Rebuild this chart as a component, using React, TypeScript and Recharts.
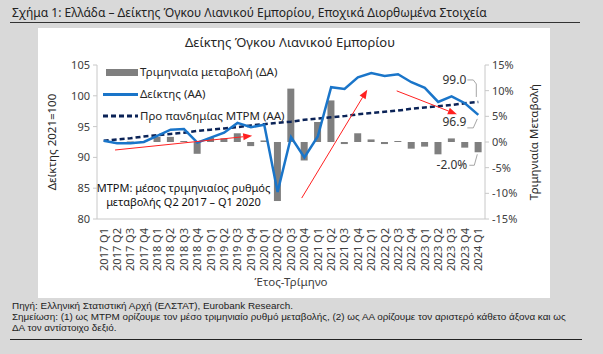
import React from 'react'
import {
  ComposedChart,
  Bar,
  Line,
  XAxis,
  YAxis,
  ReferenceLine,
  ReferenceDot,
} from 'recharts'

const quarters = [
  '2017 Q1', '2017 Q2', '2017 Q3', '2017 Q4',
  '2018 Q1', '2018 Q2', '2018 Q3', '2018 Q4',
  '2019 Q1', '2019 Q2', '2019 Q3', '2019 Q4',
  '2020 Q1', '2020 Q2', '2020 Q3', '2020 Q4',
  '2021 Q1', '2021 Q2', '2021 Q3', '2021 Q4',
  '2022 Q1', '2022 Q2', '2022 Q3', '2022 Q4',
  '2023 Q1', '2023 Q2', '2023 Q3', '2023 Q4',
  '2024 Q1',
]

// Δείκτης (ΑΑ)
const indexValues = [
  92.7, 92.3, 92.3, 92.5,
  93.5, 94.5, 94.6, 92.4,
  93.2, 94.0, 95.6, 94.9,
  95.3, 84.4, 93.3, 90.0,
  93.4, 101.4, 101.1, 103.0,
  103.7, 103.2, 103.5, 102.2,
  101.3, 99.0, 99.9, 98.8,
  96.9,
]

// Προ πανδημίας ΜΤΡΜ (ΑΑ)
const trendValues = [
  92.7, 92.9, 93.1, 93.4,
  93.6, 93.8, 94.0, 94.3,
  94.5, 94.7, 94.9, 95.2,
  95.4, 95.6, 95.8, 96.1,
  96.3, 96.5, 96.7, 97.0,
  97.2, 97.4, 97.6, 97.9,
  98.1, 98.3, 98.5, 98.8,
  99.0,
]

// Τριμηνιαία μεταβολή (ΔΑ), %
const changeValues = [
  0, -0.3, 0.1, 0.2,
  1.0, 1.0, 0.2, -2.3,
  0.8, 0.7, 1.7, -0.8,
  0.3, -11.5, 10.4, -3.6,
  3.9, 8.1, -0.4, 1.7,
  0.5, -0.4, 0.2, -1.3,
  -0.9, -2.4, 0.7, -1.1,
  -2.0,
]

const leftTicks = [80, 85, 90, 95, 100, 105]
const rightTicks = [-15, -10, -5, 0, 5, 10, 15]

const data = quarters.map((q, i) => ({
  q,
  i,
  index: indexValues[i],
  trend: trendValues[i],
  change: changeValues[i],
}))

const FONT = '"Noto Sans", "Open Sans", sans-serif'
const GREY = '#7f7f7f'
const BLUE = '#1a75c9'
const NAVY = '#0b2357'
const RED = '#ff2020'
const AXIS = '#c8c8c8'

function Arrow(props: any) {
  const { x1, y1, x2, y2 } = props
  if ([x1, y1, x2, y2].some((v) => typeof v !== 'number')) return null
  const a = Math.atan2(y2 - y1, x2 - x1)
  const len = 9
  const w = 3.5
  const bx = x2 - len * Math.cos(a)
  const by = y2 - len * Math.sin(a)
  const px = -Math.sin(a) * w
  const py = Math.cos(a) * w
  return (
    <g>
      <line x1={x1} y1={y1} x2={bx} y2={by} stroke={RED} strokeWidth={1} />
      <polygon points={`${x2},${y2} ${bx + px},${by + py} ${bx - px},${by - py}`} fill={RED} />
    </g>
  )
}

function callout(text: string, pts: number[][], tx: number, ty: number) {
  return (props: any) => {
    const { cx, cy } = props
    if (typeof cx !== 'number' || typeof cy !== 'number') return null
    return (
      <g>
        <polyline
          points={pts.map(([dx, dy]) => `${cx + dx},${cy + dy}`).join(' ')}
          fill="none"
          stroke="#a6a6a6"
          strokeWidth={1}
        />
        <text x={cx + tx} y={cy + ty} textAnchor="end" fontSize={12} fill="#333" fontFamily={FONT}>
          {text}
        </text>
      </g>
    )
  }
}

function XTick(props: any) {
  const { x, y, payload } = props
  return (
    <g transform={`translate(${x},${y})`}>
      <text
        x={0}
        y={0}
        dy="0.35em"
        transform="rotate(-90)"
        textAnchor="end"
        fontSize={11}
        fill="#404040"
        fontFamily={FONT}
      >
        {payload.value}
      </text>
    </g>
  )
}

function LegendBox() {
  const row: React.CSSProperties = { display: 'flex', alignItems: 'center', height: 22 }
  const txt: React.CSSProperties = { fontSize: 11.5, color: '#262626', marginLeft: 2 }
  return (
    <div style={{ position: 'absolute', left: 65, top: 33, fontFamily: FONT, lineHeight: 1 }}>
      <div style={row}>
        <div style={{ width: 32, height: 7, background: GREY, marginLeft: 3 }} />
        <span style={txt}>Τριμηνιαία μεταβολή (ΔΑ)</span>
      </div>
      <div style={row}>
        <div style={{ width: 35, height: 3, background: BLUE }} />
        <span style={txt}>Δείκτης (ΑΑ)</span>
      </div>
      <div style={row}>
        <svg width={35} height={4}>
          <line x1={0} y1={2} x2={35} y2={2} stroke={NAVY} strokeWidth={3} strokeDasharray="5 3" />
        </svg>
        <span style={txt}>Προ πανδημίας ΜΤΡΜ (ΑΑ)</span>
      </div>
    </div>
  )
}

export default function App() {
  return (
    <div
      style={{
        position: 'absolute',
        left: 0,
        top: 0,
        width: 603,
        height: 354,
        background: '#d9d9d9',
        fontFamily: FONT,
        overflow: 'hidden',
      }}
    >
      <div style={{ position: 'absolute', left: 12, top: 4, fontSize: 12, color: '#222' }}>
        Σχήμα 1: Ελλάδα – Δείκτης Όγκου Λιανικού Εμπορίου, Εποχικά Διορθωμένα Στοιχεία
      </div>
      <div style={{ position: 'absolute', left: 10, top: 22, width: 570, height: 1, background: '#333' }} />

      <div style={{ position: 'absolute', left: 38, top: 28, width: 512, height: 270, background: '#fff' }}>
        <div
          style={{
            position: 'absolute',
            left: 0,
            top: 5,
            width: 504,
            textAlign: 'center',
            fontSize: 13,
            color: '#262626',
          }}
        >
          Δείκτης Όγκου Λιανικού Εμπορίου
        </div>

        <ComposedChart
          width={512}
          height={270}
          data={data}
          margin={{ top: 37, right: 0, bottom: 0, left: 0 }}
          style={{ fontFamily: FONT }}
        >
          <XAxis
            dataKey="q"
            interval={0}
            tick={<XTick />}
            tickLine={false}
            tickMargin={3}
            axisLine={{ stroke: AXIS }}
            height={79}
            label={{
              value: 'Έτος-Τρίμηνο',
              position: 'insideBottom',
              offset: 12,
              fontSize: 11.5,
              fill: '#404040',
            }}
          />
          <XAxis xAxisId="num" dataKey="i" type="number" domain={[-0.5, 28.5]} hide />
          <YAxis
            yAxisId="left"
            domain={[80, 105]}
            ticks={leftTicks}
            width={59}
            tick={{ fontSize: 11, fill: '#404040' }}
            tickSize={4}
            tickMargin={3}
            axisLine={{ stroke: AXIS }}
            tickLine={{ stroke: AXIS }}
            label={{
              value: 'Δείκτης 2021=100',
              angle: -90,
              position: 'insideLeft',
              offset: 14,
              fontSize: 11.5,
              fill: '#262626',
              style: { textAnchor: 'middle' },
            }}
          />
          <YAxis
            yAxisId="right"
            orientation="right"
            domain={[-15, 15]}
            ticks={rightTicks}
            interval={0}
            width={65}
            tickFormatter={(v: number) => `${v}%`}
            tick={{ fontSize: 11, fill: '#404040' }}
            tickSize={4}
            tickMargin={3}
            axisLine={{ stroke: AXIS }}
            tickLine={{ stroke: AXIS }}
            label={{
              value: 'Τριμηνιαία Μεταβολή',
              angle: -90,
              position: 'insideRight',
              offset: 16,
              fontSize: 11.5,
              fill: '#262626',
              style: { textAnchor: 'middle' },
            }}
          />
          <Bar dataKey="change" yAxisId="right" fill={GREY} barSize={7} isAnimationActive={false} />
          <Line
            dataKey="trend"
            yAxisId="left"
            stroke={NAVY}
            strokeWidth={2.5}
            strokeDasharray="5 3"
            dot={false}
            isAnimationActive={false}
          />
          <Line
            dataKey="index"
            yAxisId="left"
            stroke={BLUE}
            strokeWidth={2.5}
            dot={false}
            isAnimationActive={false}
          />
          <ReferenceLine
            xAxisId="num"
            yAxisId="left"
            segment={[{ x: 0.85, y: 91.2 }, { x: 11.1, y: 93.5 }]}
            shape={Arrow}
          />
          <ReferenceLine
            xAxisId="num"
            yAxisId="left"
            segment={[{ x: 14.8, y: 83.4 }, { x: 19.7, y: 101.0 }]}
            shape={Arrow}
          />
          <ReferenceLine
            xAxisId="num"
            yAxisId="left"
            segment={[{ x: 21.9, y: 100.8 }, { x: 26.4, y: 97.0 }]}
            shape={Arrow}
          />
          <ReferenceDot
            xAxisId="num"
            yAxisId="left"
            x={28}
            y={99.0}
            r={0}
            shape={callout('99.0', [[-2, -5], [-2, -18], [-5, -22], [-11, -22]], -12, -18)}
          />
          <ReferenceDot
            xAxisId="num"
            yAxisId="left"
            x={28}
            y={96.9}
            r={0}
            shape={callout('96.9', [[-1, 4], [-5, 13], [-11, 13]], -12, 11)}
          />
          <ReferenceDot
            xAxisId="num"
            yAxisId="right"
            x={28}
            y={-2.0}
            r={0}
            shape={callout('-2.0%', [[-1, 2], [-4, 13], [-9, 13]], -11, 17)}
          />
        </ComposedChart>

        <LegendBox />

        <div
          style={{
            position: 'absolute',
            left: 58,
            top: 153,
            width: 175,
            textAlign: 'center',
            fontSize: 11,
            lineHeight: '14px',
            color: '#111',
          }}
        >
          <div>ΜΤΡΜ: μέσος τριμηνιαίος ρυθμός</div>
          <div>μεταβολής Q2 2017 – Q1 2020</div>
        </div>
      </div>

      <div
        style={{
          position: 'absolute',
          left: 12,
          top: 300,
          width: 585,
          fontSize: 9.9,
          lineHeight: '11px',
          color: '#222',
          fontFamily: '"Liberation Sans", Arial, sans-serif',
        }}
      >
        Πηγή: Ελληνική Στατιστική Αρχή (ΕΛΣΤΑΤ), Eurobank Research.
        <br />
        Σημείωση: (1) ως ΜΤΡΜ ορίζουμε τον μέσο τριμηνιαίο ρυθμό μεταβολής, (2) ως ΑΑ ορίζουμε τον αριστερό κάθετο άξονα και ως
        <br />
        ΔΑ τον αντίστοιχο δεξιό.
      </div>
      <div style={{ position: 'absolute', left: 10, top: 339, width: 572, height: 1, background: '#222' }} />
    </div>
  )
}
